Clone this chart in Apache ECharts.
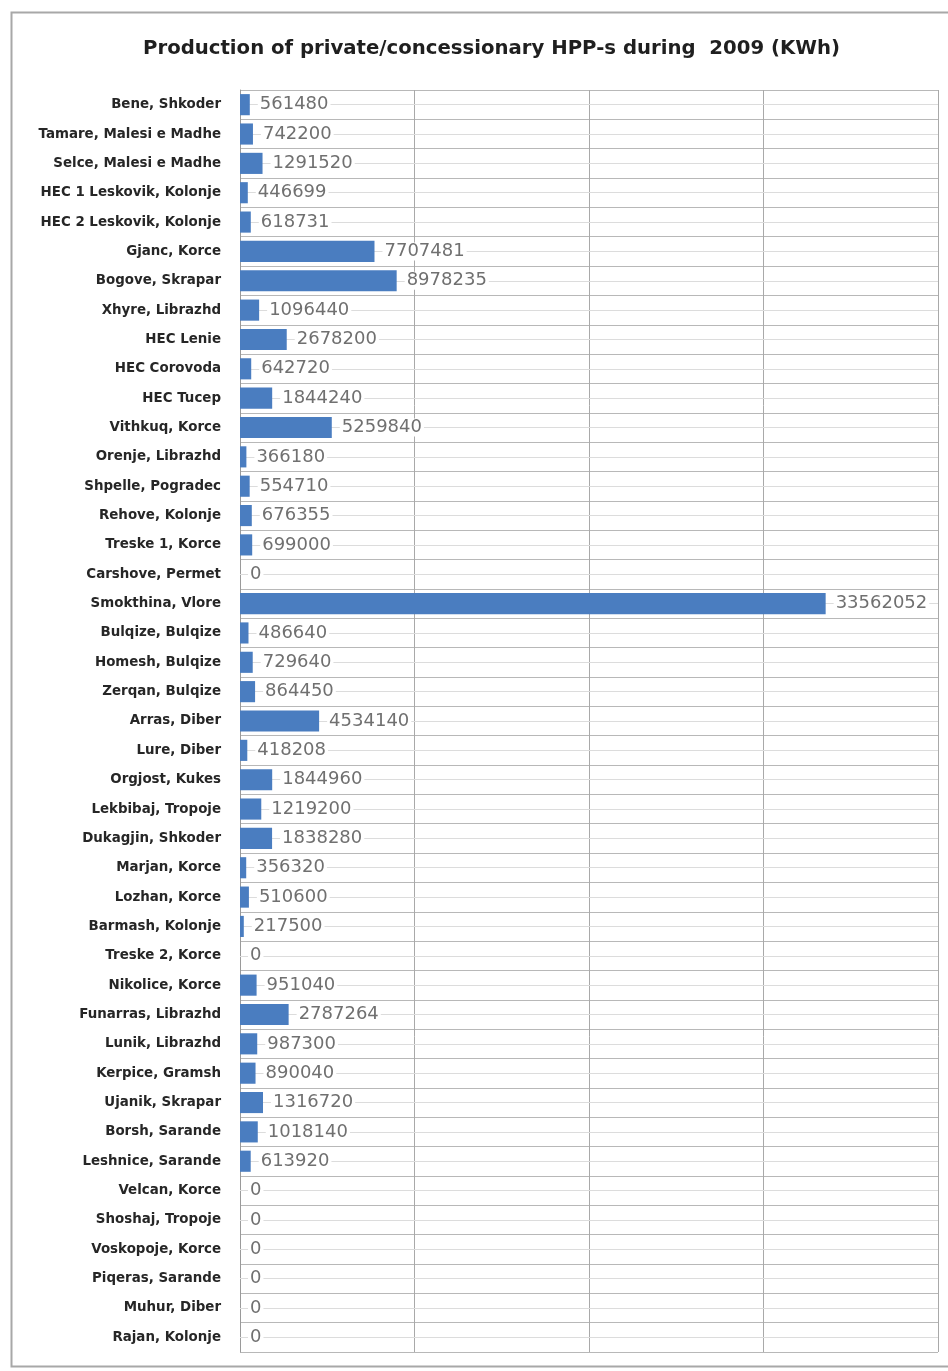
<!DOCTYPE html>
<html>
<head>
<meta charset="utf-8">
<script src="https://cdn.jsdelivr.net/npm/echarts@6/dist/echarts.min.js"></script>
<style>
  html, body { margin: 0; padding: 0; background: #fff; }
  #chart { width: 948px; height: 1371px; }
</style>
</head>
<body>
<div id="chart"></div>
<script>
// Plant names (top to bottom) and their 2009 output in kWh
const plants = [
  'Bene, Shkoder', 'Tamare, Malesi e Madhe', 'Selce, Malesi e Madhe',
  'HEC 1 Leskovik, Kolonje', 'HEC 2 Leskovik, Kolonje', 'Gjanc, Korce',
  'Bogove, Skrapar', 'Xhyre, Librazhd', 'HEC Lenie', 'HEC Corovoda',
  'HEC Tucep', 'Vithkuq, Korce', 'Orenje, Librazhd', 'Shpelle, Pogradec',
  'Rehove, Kolonje', 'Treske 1, Korce', 'Carshove, Permet', 'Smokthina, Vlore',
  'Bulqize, Bulqize', 'Homesh, Bulqize', 'Zerqan, Bulqize', 'Arras, Diber',
  'Lure, Diber', 'Orgjost, Kukes', 'Lekbibaj, Tropoje', 'Dukagjin, Shkoder',
  'Marjan, Korce', 'Lozhan, Korce', 'Barmash, Kolonje', 'Treske 2, Korce',
  'Nikolice, Korce', 'Funarras, Librazhd', 'Lunik, Librazhd', 'Kerpice, Gramsh',
  'Ujanik, Skrapar', 'Borsh, Sarande', 'Leshnice, Sarande', 'Velcan, Korce',
  'Shoshaj, Tropoje', 'Voskopoje, Korce', 'Piqeras, Sarande', 'Muhur, Diber',
  'Rajan, Kolonje'
];

const production = [
  561480, 742200, 1291520,
  446699, 618731, 7707481,
  8978235, 1096440, 2678200, 642720,
  1844240, 5259840, 366180, 554710,
  676355, 699000, 0, 33562052,
  486640, 729640, 864450, 4534140,
  418208, 1844960, 1219200, 1838280,
  356320, 510600, 217500, 0,
  951040, 2787264, 987300, 890040,
  1316720, 1018140, 613920, 0,
  0, 0, 0, 0,
  0
];

const chartTitle = 'Production of private/concessionary HPP-s during  2009 (KWh)';

const chart = echarts.init(document.getElementById('chart'));

chart.setOption({
  animation: false,
  backgroundColor: '#ffffff',
  title: {
    text: chartTitle,
    left: 138,
    top: 34,
    textStyle: {
      fontFamily: 'DejaVu Sans',
      fontWeight: 'bold',
      fontSize: 19.7,
      color: '#1f1f1f'
    }
  },
  graphic: [{
    type: 'rect',
    silent: true,
    z: -10,
    shape: { x: 11.5, y: 12.5, width: 1000, height: 1354 },
    style: { fill: 'none', stroke: '#a8a8a8', lineWidth: 2 }
  }],
  grid: {
    left: 240,
    right: 10,
    top: 90,
    bottom: 19,
    containLabel: false
  },
  xAxis: {
    type: 'value',
    min: 0,
    max: 40000000,
    interval: 10000000,
    axisLabel: { show: false },
    axisTick: { show: false },
    axisLine: { show: false },
    splitLine: { show: true, lineStyle: { color: '#a9a9a9', width: 1 } }
  },
  yAxis: {
    type: 'category',
    data: plants,
    inverse: true,
    axisTick: { show: false },
    axisLine: { show: true, lineStyle: { color: '#9a9a9a', width: 1 } },
    splitLine: { show: true, lineStyle: { color: '#b8b8b8', width: 1 } },
    axisLabel: {
      margin: 19,
      fontFamily: 'DejaVu Sans',
      fontWeight: 'bold',
      fontSize: 13.4,
      color: '#262626'
    }
  },
  series: [{
    type: 'bar',
    z: 3,
    data: production,
    barWidth: '72%',
    itemStyle: { color: '#4a7dc0' },
    label: {
      show: true,
      position: 'right',
      distance: 8,
      fontFamily: 'DejaVu Sans',
      fontSize: 18,
      color: '#707070',
      backgroundColor: '#ffffff',
      padding: [0, 2, 0, 2]
    },
    // light guide line through the middle of every category row
    markLine: {
      silent: true,
      z: 1,
      symbol: 'none',
      label: { show: false },
      lineStyle: { color: '#dcdcdc', type: 'solid', width: 1 },
      data: plants.map(name => ({ yAxis: name }))
    }
  }]
});
</script>
</body>
</html>
